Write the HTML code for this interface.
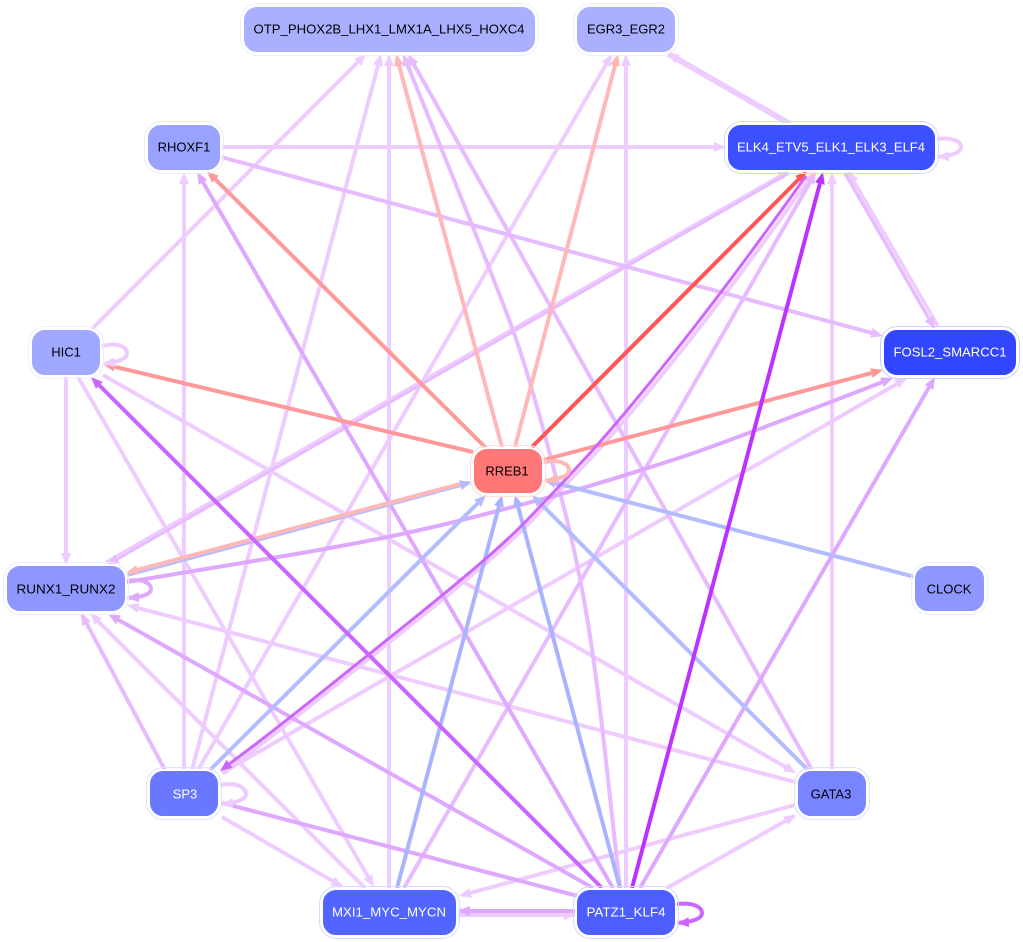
<!DOCTYPE html>
<html><head><meta charset="utf-8"><style>
html,body{margin:0;padding:0;background:#fff}
svg{display:block}
text{font-family:"Liberation Sans",sans-serif;font-size:13px;text-anchor:middle;dominant-baseline:central}
.e{fill:none;stroke-dasharray:99 1;stroke-linejoin:round}
</style></head><body>
<svg width="1023" height="942" viewBox="0 0 1023 942" xmlns="http://www.w3.org/2000/svg">
<defs>
<marker id="a" markerUnits="userSpaceOnUse" markerWidth="14" markerHeight="12" refX="12" refY="6" orient="auto"><path d="M0,1L12,6L0,11z" fill="#eeccff"/></marker>
<marker id="b" markerUnits="userSpaceOnUse" markerWidth="14" markerHeight="12" refX="12" refY="6" orient="auto"><path d="M0,1L12,6L0,11z" fill="#e6bbff"/></marker>
<marker id="c" markerUnits="userSpaceOnUse" markerWidth="14" markerHeight="12" refX="12" refY="6" orient="auto"><path d="M0,1L12,6L0,11z" fill="#dfa8ff"/></marker>
<marker id="e" markerUnits="userSpaceOnUse" markerWidth="14" markerHeight="12" refX="12" refY="6" orient="auto"><path d="M0,1L12,6L0,11z" fill="#cc66ff"/></marker>
<marker id="f" markerUnits="userSpaceOnUse" markerWidth="14" markerHeight="12" refX="12" refY="6" orient="auto"><path d="M0,1L12,6L0,11z" fill="#bb33ff"/></marker>
<marker id="p" markerUnits="userSpaceOnUse" markerWidth="14" markerHeight="12" refX="12" refY="6" orient="auto"><path d="M0,1L12,6L0,11z" fill="#ffb8b8"/></marker>
<marker id="q" markerUnits="userSpaceOnUse" markerWidth="14" markerHeight="12" refX="12" refY="6" orient="auto"><path d="M0,1L12,6L0,11z" fill="#ff9999"/></marker>
<marker id="r" markerUnits="userSpaceOnUse" markerWidth="14" markerHeight="12" refX="12" refY="6" orient="auto"><path d="M0,1L12,6L0,11z" fill="#ff5555"/></marker>
<marker id="u" markerUnits="userSpaceOnUse" markerWidth="14" markerHeight="12" refX="12" refY="6" orient="auto"><path d="M0,1L12,6L0,11z" fill="#b3bcff"/></marker>
<marker id="v" markerUnits="userSpaceOnUse" markerWidth="14" markerHeight="12" refX="12" refY="6" orient="auto"><path d="M0,1L12,6L0,11z" fill="#aab3ff"/></marker>
</defs>
<g stroke-width="4" fill="none">
<g stroke="#eeccff">
<line class="e" pathLength="100" x1="92" y1="329" x2="366" y2="54" marker-end="url(#a)"/>
<line class="e" pathLength="100" x1="66" y1="376" x2="66" y2="565" marker-end="url(#a)"/>
<line class="e" pathLength="100" x1="78" y1="377" x2="374" y2="887" marker-end="url(#a)"/>
<line class="e" pathLength="100" x1="103" y1="375" x2="796" y2="773" marker-end="url(#a)"/>
<line class="e" pathLength="100" x1="184" y1="770" x2="184" y2="172" marker-end="url(#a)"/>
<line class="e" pathLength="100" x1="192" y1="770" x2="381" y2="54" marker-end="url(#a)"/>
<line class="e" pathLength="100" x1="198" y1="770" x2="612" y2="54" marker-end="url(#a)"/>
<line class="e" pathLength="100" x1="222" y1="773" x2="907" y2="378" marker-end="url(#a)"/>
<line class="e" pathLength="100" x1="222" y1="817" x2="343" y2="887" marker-end="url(#a)"/>
<line class="e" pathLength="100" x1="365" y1="888" x2="90" y2="613" marker-end="url(#a)"/>
<line class="e" pathLength="100" x1="389" y1="888" x2="389" y2="54" marker-end="url(#a)"/>
<line class="e" pathLength="100" x1="626" y1="888" x2="626" y2="54" marker-end="url(#a)"/>
<line class="e" pathLength="100" x1="832" y1="770" x2="832" y2="172" marker-end="url(#a)"/>
<line class="e" pathLength="100" x1="795" y1="782" x2="127" y2="605" marker-end="url(#a)"/>
<line class="e" pathLength="100" x1="795" y1="805" x2="459" y2="896" marker-end="url(#a)"/>
<line class="e" pathLength="100" x1="667" y1="888" x2="796" y2="815" marker-end="url(#a)"/>
<line class="e" pathLength="100" x1="221" y1="147" x2="726" y2="147" marker-end="url(#a)"/>
<line class="e" pathLength="100" x1="458" y1="915" x2="576" y2="915" marker-end="url(#a)"/>
<line class="e" pathLength="100" stroke-width="3" x1="106" y1="562" x2="790" y2="170" marker-end="url(#a)"/>
<path class="e" pathLength="100" d="M224,773L257.500,747Q290,722 330.500,689.500Q371,657 408.500,627Q446,597 478.500,569.500Q511,542 533.500,518.500Q556,495 589,460Q622,425 679.500,353Q737,281 814,172" marker-end="url(#a)"/>
<line class="e" pathLength="100" stroke-width="6" x1="790" y1="124" x2="667" y2="53" marker-end="url(#a)"/>
<line class="e" pathLength="100" stroke-width="3.500" x1="938" y1="326" x2="848" y2="171" marker-end="url(#a)"/>
</g>
<g stroke="#e6bbff">
<line class="e" pathLength="100" x1="165" y1="770" x2="81" y2="613" marker-end="url(#b)"/>
<line class="e" pathLength="100" x1="221" y1="157" x2="883" y2="336" marker-end="url(#b)"/>
<path class="e" pathLength="100" d="M620,888L607,770Q595,660 584,600Q573,540 560,493Q533,387 514,333Q495,280 403,54" marker-end="url(#b)"/>
<line class="e" pathLength="100" x1="812" y1="770" x2="408" y2="54" marker-end="url(#b)"/>
<line class="e" pathLength="100" x1="404" y1="888" x2="816" y2="172" marker-end="url(#b)"/>
<line class="e" pathLength="100" stroke-width="3.500" x1="845" y1="173" x2="935" y2="329" marker-end="url(#b)"/>
<line class="e" pathLength="100" stroke-width="3" x1="789" y1="173" x2="107" y2="565" marker-end="url(#b)"/>
</g>
<g stroke="#dfa8ff">
<line class="e" pathLength="100" x1="222" y1="803" x2="597" y2="901" marker-end="url(#c)"/>
<path class="e" pathLength="100" d="M127,582L290,555Q380,540 450,523Q530,503 586,487Q643,470 691,454Q740,437 893,378" marker-end="url(#c)"/>
<line class="e" pathLength="100" x1="593" y1="888" x2="108" y2="614" marker-end="url(#c)"/>
<line class="e" pathLength="100" x1="613" y1="888" x2="197" y2="172" marker-end="url(#c)"/>
<line class="e" pathLength="100" x1="640" y1="888" x2="935" y2="377" marker-end="url(#c)"/>
<line class="e" pathLength="100" x1="576" y1="911" x2="458" y2="911" marker-end="url(#c)"/>
</g>
<g stroke="#b3bcff">
<line class="e" pathLength="100" x1="210" y1="770" x2="486" y2="495" marker-end="url(#u)"/>
<line class="e" pathLength="100" x1="808" y1="770" x2="532" y2="495" marker-end="url(#u)"/>
<line class="e" pathLength="100" x1="915" y1="577" x2="544" y2="480" marker-end="url(#u)"/>
<line class="e" pathLength="100" x1="127" y1="575" x2="472" y2="482" marker-end="url(#u)"/>
</g>
<g stroke="#aab3ff">
<line class="e" pathLength="100" x1="397" y1="888" x2="502" y2="495" marker-end="url(#v)"/>
<line class="e" pathLength="100" x1="620" y1="888" x2="515" y2="495" marker-end="url(#v)"/>
</g>
<g stroke="#ffb8b8">
<line class="e" pathLength="100" x1="460" y1="484" x2="126" y2="573" marker-end="url(#p)"/>
<line class="e" pathLength="100" x1="502" y1="447" x2="396" y2="54" marker-end="url(#p)"/>
<line class="e" pathLength="100" x1="515" y1="447" x2="618" y2="54" marker-end="url(#p)"/>
</g>
<g stroke="#ff9999">
<line class="e" pathLength="100" x1="473" y1="452" x2="103" y2="364" marker-end="url(#q)"/>
<line class="e" pathLength="100" x1="486" y1="448" x2="207" y2="171" marker-end="url(#q)"/>
<line class="e" pathLength="100" x1="543" y1="460" x2="883" y2="370" marker-end="url(#q)"/>
</g>
<line class="e" pathLength="100" stroke="#ff5555" x1="532" y1="447" x2="807" y2="171" marker-end="url(#r)"/>
<g stroke="#cc66ff">
<line class="e" pathLength="100" x1="602" y1="888" x2="91" y2="377" marker-end="url(#e)"/>
<path class="e" pathLength="100" stroke-width="3" d="M806,176Q732,280 675,351.500Q618,423 585.500,458Q553,493 530.500,516.500Q508,540 475.500,567.500Q443,595 405.500,625Q368,655 327.500,687.500Q287,720 254.500,745L220,771" marker-end="url(#e)"/>
</g>
<line class="e" pathLength="100" stroke="#bb33ff" x1="632" y1="888" x2="823" y2="172" marker-end="url(#f)"/>
<path class="e" pathLength="100" stroke="#eeccff" d="M102,346C120,342 127,348 127,353C127,360 116,362 103,364" marker-end="url(#a)"/>
<path class="e" pathLength="100" stroke="#dfa8ff" d="M127,581C144,578 151,584 151,589C151,595 141,597 127,598" marker-end="url(#c)"/>
<path class="e" pathLength="100" stroke="#ffb8b8" d="M544,462C562,459 569,465 569,470C569,477 558,479 545,481" marker-end="url(#p)"/>
<path class="e" pathLength="100" stroke="#eeccff" d="M220,785C238,782 246,788 246,794C246,800 236,803 221,804" marker-end="url(#a)"/>
<path class="e" pathLength="100" stroke="#cc66ff" d="M677,904C695,902 702,908 702,913C702,919 692,922 677,923" marker-end="url(#e)"/>
<path class="e" pathLength="100" stroke="#eeccff" d="M937,139C954,137 961,142 961,147C961,153 951,156 937,157" marker-end="url(#a)"/>
</g>
<g stroke="#eceeff" stroke-width="1" fill="none">
<rect x="240.500" y="3.500" width="298" height="52" rx="17"/>
<rect x="573.500" y="3.500" width="105" height="52" rx="17"/>
<rect x="724.500" y="121.500" width="214" height="52" rx="17" stroke="#d5d9ff"/>
<rect x="144.500" y="121.500" width="79" height="52" rx="17"/>
<rect x="28.500" y="326.500" width="75" height="52" rx="17"/>
<rect x="880.500" y="326.500" width="139" height="52" rx="17" stroke="#ccd1ff"/>
<rect x="470.500" y="445.500" width="75" height="51" rx="17" stroke="#ffdddd"/>
<rect x="3.500" y="562.500" width="125" height="52" rx="17"/>
<rect x="911.500" y="562.500" width="76" height="52" rx="17"/>
<rect x="146.500" y="767.500" width="75" height="52" rx="17" stroke="#dde0ff"/>
<rect x="794.500" y="767.500" width="75" height="52" rx="17" stroke="#dde0ff"/>
<rect x="319.500" y="886.500" width="140" height="52" rx="17" stroke="#d5d9ff"/>
<rect x="573.500" y="886.500" width="105" height="52" rx="17" stroke="#d5d9ff"/>
</g>
<g stroke="#fff" stroke-width="2">
<rect x="243" y="6" width="293" height="47" rx="14" fill="#aab0ff"/>
<rect x="576" y="6" width="100" height="47" rx="14" fill="#aab0ff"/>
<rect x="727" y="124" width="209" height="47" rx="14" fill="#3c50ff"/>
<rect x="147" y="124" width="74" height="47" rx="14" fill="#99a2ff"/>
<rect x="31" y="329" width="70" height="47" rx="14" fill="#a0a8ff"/>
<rect x="883" y="329" width="134" height="47" rx="14" fill="#3346ff"/>
<rect x="473" y="448" width="70" height="46" rx="14" fill="#ff7777"/>
<rect x="6" y="565" width="120" height="47" rx="14" fill="#8d97ff"/>
<rect x="914" y="565" width="71" height="47" rx="14" fill="#8d97ff"/>
<rect x="149" y="770" width="70" height="47" rx="14" fill="#6a78ff"/>
<rect x="797" y="770" width="70" height="47" rx="14" fill="#7985ff"/>
<rect x="322" y="889" width="135" height="47" rx="14" fill="#5365ff"/>
<rect x="576" y="889" width="100" height="47" rx="14" fill="#4c5eff"/>
</g>
<text x="389" y="29" fill="#000" textLength="271" lengthAdjust="spacingAndGlyphs">OTP_PHOX2B_LHX1_LMX1A_LHX5_HOXC4</text>
<text x="626" y="29" fill="#000">EGR3_EGR2</text>
<text x="831" y="147" fill="#fff" textLength="188" lengthAdjust="spacingAndGlyphs">ELK4_ETV5_ELK1_ELK3_ELF4</text>
<text x="184" y="147" fill="#000">RHOXF1</text>
<text x="66" y="352" fill="#000">HIC1</text>
<text x="950" y="352" fill="#fff" textLength="113" lengthAdjust="spacingAndGlyphs">FOSL2_SMARCC1</text>
<text x="507" y="471" fill="#000">RREB1</text>
<text x="66" y="589" fill="#000" textLength="99" lengthAdjust="spacingAndGlyphs">RUNX1_RUNX2</text>
<text x="949" y="589" fill="#000">CLOCK</text>
<text x="185" y="794" fill="#fff">SP3</text>
<text x="831" y="794" fill="#000">GATA3</text>
<text x="389" y="912" fill="#fff" textLength="114" lengthAdjust="spacingAndGlyphs">MXI1_MYC_MYCN</text>
<text x="626" y="912" fill="#fff" textLength="79" lengthAdjust="spacingAndGlyphs">PATZ1_KLF4</text>
</svg>
</body></html>
